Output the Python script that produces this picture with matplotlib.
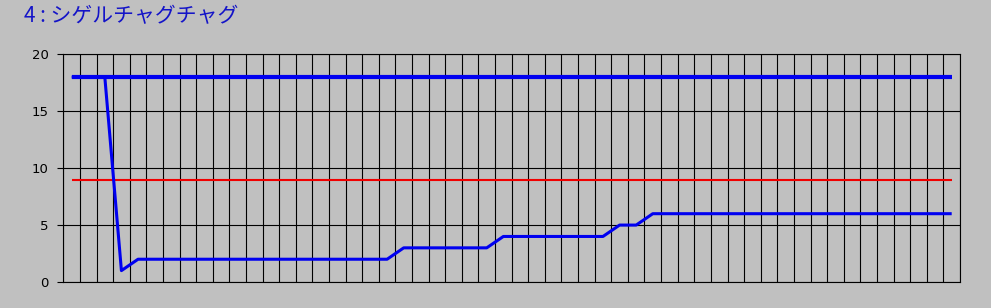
import matplotlib
matplotlib.use("Agg")
import matplotlib.pyplot as plt
import numpy as np

plt.rcParams['font.family'] = ['Noto Sans CJK JP', 'DejaVu Sans']

title = "4 : シゲルチャグチャグ"
n_points = 54
upper_line = [18] * 54
mid_line = [9] * 54
lower_line = ([18, 18, 18, 1] + [2] * 16 + [3] * 6 + [4] * 7 + [5] * 2 + [6] * 19)
y_ticks = [0, 5, 10, 15, 20]

bg = '#c0c0c0'
fig = plt.figure(figsize=(9.91, 3.08), dpi=100, facecolor=bg)
ax = fig.add_axes([63.3 / 991, 1 - 282 / 308, (960 - 63.3) / 991, (282 - 54.3) / 308])
ax.set_facecolor(bg)

x = np.arange(n_points)
ax.plot(x, upper_line, color='#0000f0', lw=3.0, solid_capstyle='butt', zorder=3)
ax.plot(x, mid_line, color='#f00000', lw=1.5, solid_capstyle='butt', zorder=3)
ax.plot(x, lower_line, color='#0000f0', lw=2.2, solid_capstyle='butt', zorder=3)

ax.set_xlim(-0.5, n_points - 0.5)
ax.set_ylim(0, 20)
ax.set_yticks(y_ticks)
ax.set_xticks(np.arange(-0.5, n_points, 1.0))
ax.tick_params(axis='x', length=0, labelbottom=False)
ax.tick_params(axis='y', length=4, width=0.8, color='black', pad=6.5,
               labelsize=9.5, labelcolor='#000000')
for lbl in ax.get_yticklabels():
    lbl.set_family(['DejaVu Sans'])
ax.grid(True, color='black', lw=0.8, zorder=1)
ax.set_axisbelow(True)
for s in ax.spines.values():
    s.set_color('black')
    s.set_linewidth(0.8)

fig.text(24 / 991, 1 - 22 / 308, title, color='#1414c8', fontsize=15,
         ha='left', va='baseline')

fig.savefig('out.png', dpi=100, facecolor=bg)
